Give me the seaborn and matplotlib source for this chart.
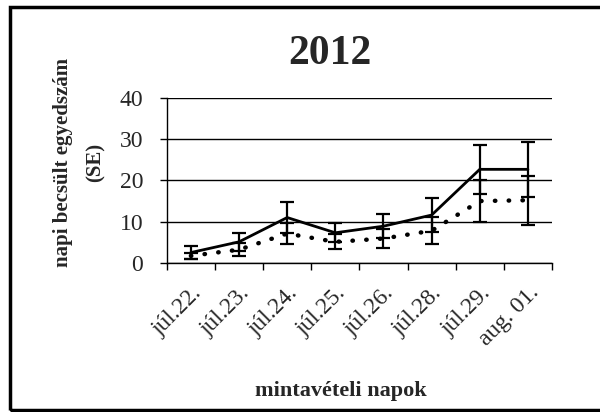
import numpy as np
import pandas as pd
import matplotlib
matplotlib.use('Agg')
import matplotlib.pyplot as plt
import seaborn as sns
from matplotlib.patches import Rectangle

# sampling days
days = ['júl.22.', 'júl.23.', 'júl.24.', 'júl.25.', 'júl.26.', 'júl.28.', 'júl.29.', 'aug. 01.']

# solid series (estimated daily count) and its SE
solid_vals = [2.5, 5.1, 11.0, 7.3, 8.9, 11.6, 22.7, 22.7]
solid_se = [1.5, 2.2, 3.7, 2.3, 2.9, 4.1, 5.9, 6.6]

# dotted series and its SE
dotted_vals = [1.7, 3.2, 7.1, 5.1, 5.9, 7.8, 15.0, 15.2]
dotted_se = [0.8, 1.5, 2.6, 1.8, 2.3, 3.3, 5.1, 6.0]

df = pd.DataFrame({'day': days, 'solid': solid_vals, 'dotted': dotted_vals})
x = np.arange(len(days))

sns.set_style('white')
plt.rcParams['font.family'] = ['Liberation Serif', 'DejaVu Serif']

fig = plt.figure(figsize=(6, 4.12), dpi=100)
ax = fig.add_axes([0.278, 0.362, 0.642, 0.400])

sns.lineplot(x=x, y=df['solid'], ax=ax, color='black', lw=2.0, linestyle='-')
sns.lineplot(x=x, y=df['dotted'], ax=ax, color='black', lw=3.2, linestyle=(0, (0.1, 3.0)))
ax.lines[-1].set_dash_capstyle('round')
ax.errorbar(x, solid_vals, yerr=solid_se, fmt='none', ecolor='black', elinewidth=1.6, capsize=4.7, capthick=1.6)
ax.errorbar(x, dotted_vals, yerr=dotted_se, fmt='none', ecolor='black', elinewidth=1.6, capsize=4.7, capthick=1.6)

ax.set_xlim(-0.5, len(days) - 0.5)
ax.set_ylim(0, 40)
ax.set_yticks([0, 10, 20, 30, 40])
ax.yaxis.grid(True, color='black', lw=1)
ax.set_axisbelow(True)
for s in ['top', 'right']:
    ax.spines[s].set_visible(False)
for s in ['left', 'bottom']:
    ax.spines[s].set_color('black')
    ax.spines[s].set_linewidth(1)

ax.set_xticks(x)
ax.set_xticklabels(days, rotation=45, ha='right', rotation_mode='anchor', fontsize=17)
ax.set_xticks(np.arange(-0.5, len(days)), minor=True)
ax.tick_params(axis='x', which='major', length=0, pad=14)
ax.tick_params(axis='x', which='minor', length=5, width=1, color='black', direction='out', bottom=True)
ax.tick_params(axis='y', length=5, width=1, color='black', direction='out', left=True, labelsize=17, pad=12)
ax.set_xlabel('')
ax.set_ylabel('')

fig.text(0.55, 0.87, '2012', ha='center', va='center', fontsize=30, fontweight='bold')
fig.text(0.568, 0.05, 'mintavételi napok', ha='center', va='center', fontsize=16, fontweight='bold')
fig.text(0.105, 0.605, 'napi becsült egyedszám', ha='center', va='center', rotation=90,
         fontsize=15, fontweight='bold')
fig.text(0.16, 0.605, '(SE)', ha='center', va='center', rotation=90, fontsize=15, fontweight='bold')

fig.patches.append(Rectangle((0.016, 0.006), 0.99, 0.978, transform=fig.transFigure,
                             fill=False, edgecolor='black', lw=2.5))

fig.savefig('out.png', dpi=100)
